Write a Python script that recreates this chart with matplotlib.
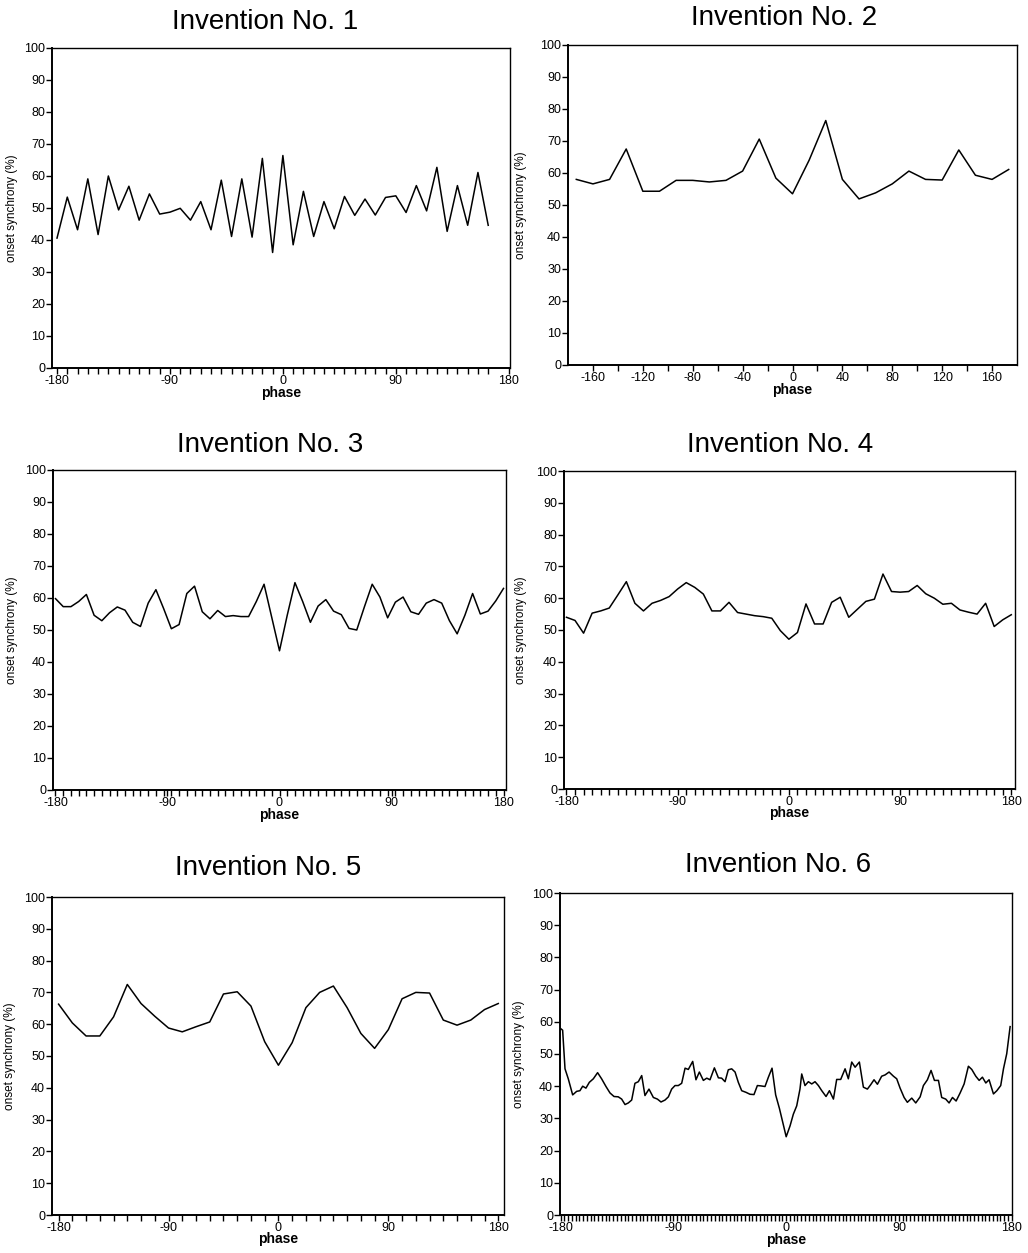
import numpy as np
import matplotlib
matplotlib.use('Agg')
import matplotlib.pyplot as plt

plt.rcParams['font.family'] = ['Liberation Sans', 'DejaVu Sans']
plt.rcParams['axes.unicode_minus'] = False

# Invention No. 1 (43 puntos, paso 360/44)
fase1 = np.arange(43) * 360 / 44 - 180
sync1 = [40.6, 53.4, 43.2, 59.1, 41.7, 60.0, 49.4, 56.8, 46.2, 54.4, 48.1,
         48.7, 49.9, 46.2, 52.0, 43.2, 58.7, 41.1, 59.1, 40.9, 65.5, 36.1,
         66.4, 38.5, 55.2, 41.1, 52.0, 43.5, 53.6, 47.7, 52.8, 47.8, 53.3,
         53.8, 48.6, 57.0, 49.1, 62.7, 42.7, 57.0, 44.6, 61.1, 44.6]

# Invention No. 2 (27 puntos)
fase2 = (np.arange(27) - 13) * 360 / 27
sync2 = [58.0, 56.6, 58.0, 67.5, 54.3, 54.3, 57.7, 57.7, 57.2, 57.7, 60.6,
         70.6, 58.4, 53.5, 64.0, 76.4, 58.0, 51.9, 53.8, 56.6, 60.6, 58.0,
         57.8, 67.2, 59.3, 58.0, 61.1]

# Invention No. 3 (59 puntos)
fase3 = np.linspace(-180, 180, 59)
sync3 = [59.8, 57.3, 57.3, 58.9, 61.1, 54.6, 52.9, 55.4, 57.2, 56.2, 52.4,
         51.1, 58.4, 62.6, 56.7, 50.4, 51.7, 61.4, 63.7, 55.7, 53.5, 56.1,
         54.2, 54.5, 54.2, 54.2, 58.9, 64.3, 53.9, 43.5, 54.6, 64.8, 58.9,
         52.4, 57.5, 59.5, 55.9, 54.8, 50.5, 50.0, 57.3, 64.3, 60.3, 53.8,
         58.7, 60.3, 55.7, 54.9, 58.4, 59.5, 58.4, 52.9, 48.8, 54.6, 61.4,
         55.0, 55.9, 59.1, 63.0]

# Invention No. 4 (53 puntos)
fase4 = np.linspace(-180, 180, 53)
sync4 = [54.0, 53.0, 49.0, 55.3, 56.0, 56.9, 61.0, 65.2, 58.4, 56.0, 58.4,
         59.3, 60.5, 62.9, 64.9, 63.4, 61.3, 56.0, 56.0, 58.7, 55.5, 55.0,
         54.5, 54.2, 53.7, 49.8, 47.1, 49.2, 58.2, 51.9, 51.9, 58.7, 60.3,
         54.0, 56.5, 59.0, 59.7, 67.6, 62.1, 61.9, 62.1, 64.0, 61.4, 60.0,
         58.1, 58.4, 56.3, 55.6, 55.0, 58.4, 51.1, 53.2, 54.8]

# Invention No. 5 (33 puntos)
fase5 = np.linspace(-180, 180, 33)
sync5 = [66.3, 60.4, 56.3, 56.3, 62.3, 72.5, 66.5, 62.5, 58.8, 57.6, 59.2,
         60.7, 69.5, 70.2, 65.7, 54.5, 47.1, 54.2, 65.2, 70.0, 72.0, 65.2,
         57.1, 52.4, 58.3, 68.0, 70.0, 69.8, 61.3, 59.7, 61.3, 64.6, 66.5]

# Invention No. 6 (curva densa)
fase6 = [-180, -178.4, -176.5, -173.9, -170.4, -167.2, -164.6, -162.4, -159.8,
         -157.1, -153.9, -150.5, -147.3, -143.8, -140.6, -137.4, -134.0,
         -131.3, -128.6, -126.0, -123.3, -120.7, -118.0, -115.3, -112.7,
         -109.5, -106.0, -102.8, -99.9, -96.7, -94.0, -91.4, -88.7, -86.1,
         -83.4, -80.7, -78.1, -74.6, -72.0, -69.3, -66.1, -63.4, -60.8,
         -57.3, -54.1, -51.5, -48.8, -46.2, -43.5, -40.8, -38.2, -35.5,
         -32.1, -28.9, -25.7, -23.0, -20.3, -16.9, -14.2, -11.3, -8.4, -5.4,
         -2.2, 0.0, 3.1, 5.7, 8.4, 11.0, 12.4, 15.0, 17.7, 20.4, 23.0, 25.7,
         28.4, 31.8, 34.5, 37.7, 40.3, 43.5, 47.0, 49.6, 52.3, 55.0, 58.4,
         61.6, 64.8, 67.5, 70.1, 72.8, 76.2, 78.9, 82.1, 85.6, 88.2, 90.9,
         94.1, 96.7, 100.2, 103.4, 106.9, 109.5, 112.7, 115.6, 118.3, 121.5,
         124.1, 127.3, 130.0, 132.7, 135.6, 138.8, 142.0, 145.4, 148.1,
         151.3, 154.0, 156.6, 159.3, 161.9, 165.4, 168.1, 171.2, 173.4,
         176.0, 178.7]
sync6 = [57.9, 57.4, 45.4, 42.3, 37.3, 38.4, 38.6, 40.0, 39.4, 41.2, 42.3,
         44.2, 42.3, 39.9, 37.9, 36.8, 36.7, 36.0, 34.3, 34.8, 35.7, 40.9,
         41.4, 43.3, 37.1, 39.1, 36.5, 36.0, 35.1, 35.7, 36.7, 39.1, 40.2,
         40.2, 40.9, 45.6, 45.2, 47.7, 42.0, 44.4, 41.8, 42.5, 42.0, 45.7,
         42.6, 42.5, 41.4, 45.1, 45.4, 44.4, 41.2, 38.6, 38.1, 37.5, 37.4,
         40.2, 40.1, 39.9, 42.8, 45.6, 37.3, 33.1, 27.9, 24.3, 27.7, 31.3,
         33.9, 39.1, 43.8, 40.2, 41.4, 40.7, 41.4, 40.2, 38.6, 36.8, 38.6,
         36.0, 42.1, 42.1, 45.4, 42.3, 47.5, 45.9, 47.5, 39.7, 39.1, 40.5,
         42.0, 40.6, 43.1, 43.5, 44.4, 43.1, 42.3, 39.4, 36.5, 35.0, 36.3,
         34.8, 36.7, 40.2, 42.0, 44.9, 41.8, 41.8, 36.5, 36.0, 34.8, 36.5,
         35.4, 37.9, 40.7, 46.2, 45.2, 43.1, 41.8, 42.8, 41.0, 42.0, 37.6,
         38.6, 40.2, 45.4, 50.1, 58.5]

W, H = 1028, 1253
fig = plt.figure(figsize=(W / 100, H / 100), dpi=100)

# cajas en pixeles: izquierda, arriba, derecha, abajo
cajas = [(52, 48, 510, 368), (568, 45, 1017, 365),
         (53, 470, 506, 790), (564, 471, 1015, 789),
         (52, 897, 504, 1215), (560, 893, 1012, 1215)]
limites = [(-184, 181), (-180, 180), (-182, 182), (-182, 183),
           (-185.4, 184.7), (-180.5, 180.2)]
titulos = [(265, 22), (784, 18), (270, 445), (780, 445), (268, 868), (778, 865)]
ylab_x = [-0.074, -0.091, -0.077, -0.082, -0.08, -0.077]

fases = [fase1, fase2, fase3, fase4, fase5, fase6]
syncs = [sync1, sync2, sync3, sync4, sync5, sync6]

for i in range(6):
    l, t, r, b = cajas[i]
    ax = fig.add_axes([l / W, 1 - b / H, (r - l) / W, (b - t) / H])
    ax.plot(fases[i], syncs[i], color='black', lw=1.1)
    ax.set_xlim(limites[i])
    ax.set_ylim(0, 100)
    ax.set_yticks(np.arange(0, 101, 10))
    if i == 1:
        ax.set_xticks(np.arange(-160, 161, 40))
        ax.set_xticks(np.arange(-160, 161, 20), minor=True)
    else:
        ax.set_xticks([-180, -90, 0, 90, 180])
        if i == 5:
            ax.set_xticks(np.arange(-180, 181, 3), minor=True)
        else:
            ax.set_xticks(fases[i], minor=True)
    ax.tick_params(which='both', direction='out', length=4, width=1,
                   labelsize=9, pad=1)
    for s in ax.spines.values():
        s.set_linewidth(1.0)
    ax.spines['left'].set_linewidth(1.4)
    ax.spines['bottom'].set_linewidth(1.4)
    ax.set_ylabel('onset synchrony (%)', fontsize=8.5)
    ax.yaxis.set_label_coords(ylab_x[i], 0.5)
    ax.set_xlabel('phase', fontsize=10, fontweight='bold')
    ax.xaxis.set_label_coords(0.5, -0.055)
    tx, ty = titulos[i]
    fig.text(tx / W, 1 - ty / H, 'Invention No. %d' % (i + 1), fontsize=20,
             ha='center', va='center')

fig.savefig('out.png', dpi=100)
